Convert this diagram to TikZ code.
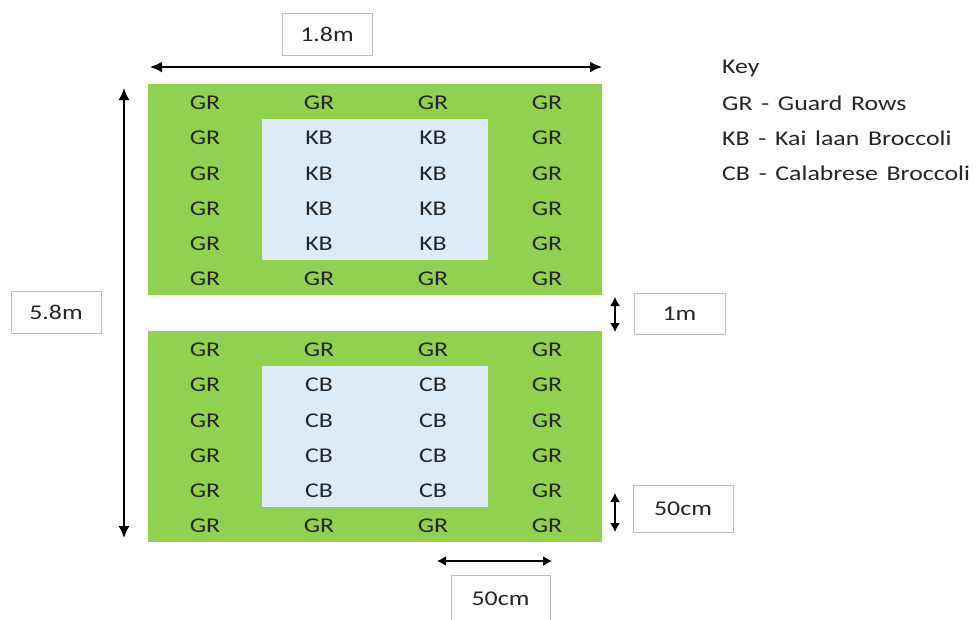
\documentclass[tikz,border=0pt]{standalone}
\usepackage{fontspec}
\setmainfont{Carlito}[FakeStretch=1.23, WordSpace=1.5]
\usetikzlibrary{arrows.meta}
\definecolor{plotgreen}{HTML}{92D050}
\definecolor{plotblue}{HTML}{DDEBF7}
\definecolor{boxgray}{HTML}{BFBFBF}
\definecolor{inkdark}{HTML}{262626}
\begin{document}
\begin{tikzpicture}[x=1pt,y=-1pt,
  lbl/.style={font=\fontsize{21}{24}\selectfont, text=inkdark, inner sep=0pt},
  plotbed/.style={fill=plotgreen, draw=none, inner sep=0pt, anchor=north west},
  trialbed/.style={fill=plotblue, draw=none, inner sep=0pt, anchor=north west},
  dimbox/.style={draw=boxgray, line width=1pt, fill=white, inner sep=0pt,
    font=\fontsize{21}{24}\selectfont, text=inkdark},
  dimbig/.style={{Latex[length=12pt,width=11pt]}-{Latex[length=12pt,width=11pt]}, line width=1.6pt},
  dimsmall/.style={{Latex[length=9pt,width=10pt]}-{Latex[length=9pt,width=10pt]}, line width=1.4pt}
]
\clip (0,0) rectangle (976,619);
\fill[white] (0,0) rectangle (976,619);

% plot beds
\node[plotbed, minimum width=454pt, minimum height=211pt] (plotA) at (148,84) {};
\node[plotbed, minimum width=454pt, minimum height=211pt] (plotB) at (148,331) {};
\node[trialbed, minimum width=226pt, minimum height=141pt] (innerA) at (262,119) {};
\node[trialbed, minimum width=226pt, minimum height=141pt] (innerB) at (262,366) {};

% row labels
\foreach \bed/\top/\crop in {A/103/KB, B/350/CB} {
  \foreach \r in {1,...,6} {
    \foreach \c/\x in {1/205, 2/319, 3/433, 4/547} {
      \pgfmathtruncatemacro{\inner}{(\r>1)&&(\r<6)&&(\c>1)&&(\c<4)}
      \ifnum\inner=1
        \node[lbl] (cell\bed-\r-\c) at (\x,{\top+35.2*(\r-1)}) {\crop};
      \else
        \node[lbl] (cell\bed-\r-\c) at (\x,{\top+35.2*(\r-1)}) {GR};
      \fi
    }
  }
}

% dimension arrows
\coordinate (wL) at (150,67);
\coordinate (wR) at (602,67);
\draw[dimbig] (wL) -- (wR);
\coordinate (hT) at (124,88);
\coordinate (hB) at (124,538);
\draw[dimbig] (hT) -- (hB);
\coordinate (gT) at (615,297);
\coordinate (gB) at (615,332);
\draw[dimsmall] (gT) -- (gB);
\coordinate (rT) at (615,493);
\coordinate (rB) at (615,532);
\draw[dimsmall] (rT) -- (rB);
\coordinate (cL) at (437,561);
\coordinate (cR) at (552,561);
\draw[dimsmall] (cL) -- (cR);

% dimension labels
\node[dimbox, minimum width=90pt, minimum height=42pt] (widthLbl) at (327,34) {1.8m};
\node[dimbox, minimum width=90pt, minimum height=42pt] (heightLbl) at (56,312) {5.8m};
\node[dimbox, minimum width=91pt, minimum height=41pt] (gapLbl) at (679.5,313.5) {1m};
\node[dimbox, minimum width=100pt, minimum height=47pt] (rowLbl) at (683,508.5) {50cm};
\node[dimbox, minimum width=99pt, minimum height=47pt] (colLbl) at (500.5,598.5) {50cm};

% key
\node[lbl, anchor=west] (keyTitle) at (722,68) {Key};
\node[lbl, anchor=west] (keyGR) at (722,103) {GR - Guard Rows};
\node[lbl, anchor=west] (keyKB) at (722,138) {KB - Kai laan Broccoli};
\node[lbl, anchor=west] (keyCB) at (722,173) {CB - Calabrese Broccoli};
\end{tikzpicture}
\end{document}
